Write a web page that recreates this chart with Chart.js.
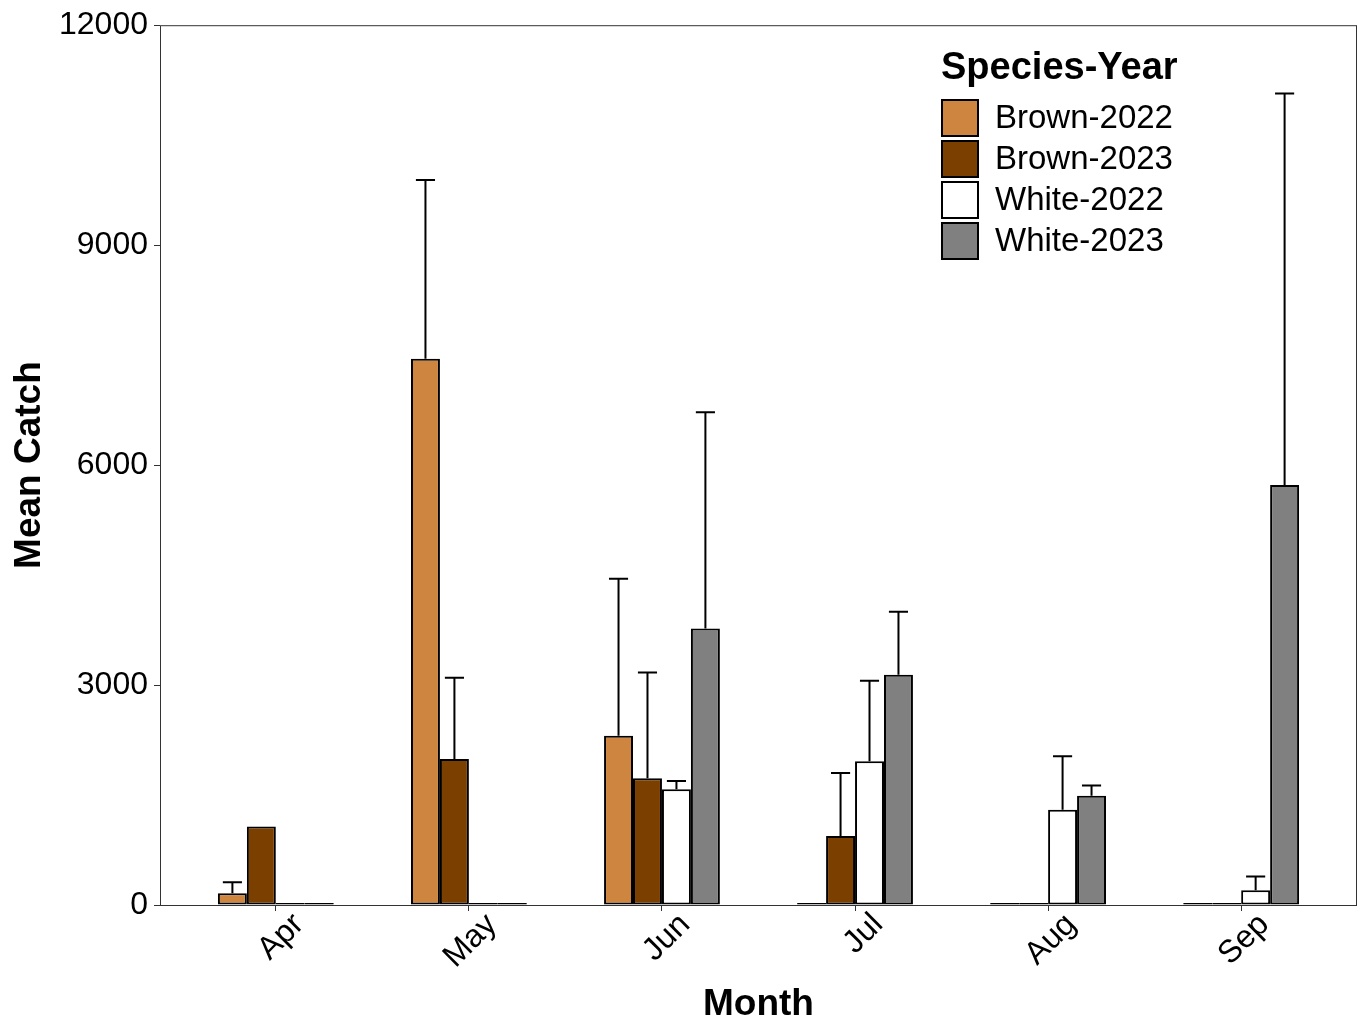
<!DOCTYPE html>
<html>
<head>
<meta charset="utf-8">
<script src="https://cdn.jsdelivr.net/npm/chart.js@4.4.1/dist/chart.umd.min.js"></script>
<style>
  html, body { margin: 0; padding: 0; background: #fff; }
  #wrap { width: 1361px; height: 1019px; position: relative; }
</style>
</head>
<body>
<div id="wrap"><canvas id="chart"></canvas></div>
<script>
const months = ["Apr", "May", "Jun", "Jul", "Aug", "Sep"];
const seriesNames = ["Brown-2022", "Brown-2023", "White-2022", "White-2023"];
const seriesColors = ["#CD853F", "#7B3F00", "#FFFFFF", "#808080"];

// mean catch per month
const brown2022 = [160, 7450, 2310, 20, 0, 0];
const brown2023 = [1070, 1990, 1730, 940, 10, 0];
const white2022 = [0, 0, 1580, 1960, 1300, 200];
const white2023 = [0, 0, 3770, 3140, 1490, 5730];

// top of error bar (null = none)
const brown2022Upper = [310, 9890, 4450, null, null, null];
const brown2023Upper = [null, 3100, 3170, 1800, null, null];
const white2022Upper = [null, null, 1690, 3060, 2030, 390];
const white2023Upper = [null, null, 6720, 4000, 1630, 11070];

const yTicks = [0, 3000, 6000, 9000, 12000];

const means = [brown2022, brown2023, white2022, white2023];
const uppers = [brown2022Upper, brown2023Upper, white2022Upper, white2023Upper];

const FONT = "'Liberation Sans', Arial, sans-serif";

const datasets = seriesNames.map((name, s) => ({
  label: name,
  data: means[s].map((v, i) => ({ x: i + 1, y: v })),
  upper: uppers[s],
  backgroundColor: seriesColors[s],
  borderColor: "#000",
  borderWidth: 2,
  borderSkipped: false,
  minBarLength: 2,
  categoryPercentage: 0.6,
  barPercentage: 1.0,
}));

// panel box around plot area
const panelBorder = {
  id: "panelBorder",
  afterDraw(chart) {
    const { ctx, chartArea: a } = chart;
    ctx.save();
    ctx.strokeStyle = "#333";
    ctx.lineWidth = 1;
    ctx.strokeRect(a.left + 0.5, a.top + 0.5, a.right - a.left - 1, a.bottom - a.top);
    ctx.restore();
  },
};

// upper-only error bars
const errorBars = {
  id: "errorBars",
  afterDatasetsDraw(chart) {
    const { ctx } = chart;
    const yScale = chart.scales.y;
    ctx.save();
    ctx.strokeStyle = "#000";
    ctx.lineWidth = 2;
    chart.data.datasets.forEach((ds, s) => {
      const meta = chart.getDatasetMeta(s);
      meta.data.forEach((el, i) => {
        const up = ds.upper[i];
        if (up == null) return;
        const yUp = yScale.getPixelForValue(up);
        const half = el.width * 0.33;
        ctx.beginPath();
        ctx.moveTo(el.x, el.y);
        ctx.lineTo(el.x, yUp);
        ctx.moveTo(el.x - half, yUp);
        ctx.lineTo(el.x + half, yUp);
        ctx.stroke();
      });
    });
    ctx.restore();
  },
};

// legend drawn inside the panel, top-right
const insideLegend = {
  id: "insideLegend",
  afterDraw(chart) {
    const { ctx } = chart;
    const x0 = 941, y0 = 99, box = 38, pitch = 41;
    ctx.save();
    ctx.fillStyle = "#000";
    ctx.textBaseline = "middle";
    ctx.textAlign = "left";
    ctx.font = "bold 38px " + FONT;
    ctx.fillText("Species-Year", x0, 69);
    ctx.font = "33px " + FONT;
    chart.data.datasets.forEach((ds, s) => {
      const y = y0 + s * pitch;
      ctx.fillStyle = ds.backgroundColor;
      ctx.fillRect(x0, y, box, box);
      ctx.strokeStyle = "#000";
      ctx.lineWidth = 2;
      ctx.strokeRect(x0 + 1, y + 1, box - 2, box - 2);
      ctx.fillStyle = "#000";
      ctx.fillText(ds.label, x0 + 54, y + box / 2 + 1);
    });
    ctx.restore();
  },
};

new Chart(document.getElementById("chart"), {
  type: "bar",
  data: { datasets },
  options: {
    responsive: true,
    maintainAspectRatio: false,
    animation: false,
    layout: { padding: { top: 23, right: 4, left: 0, bottom: 0 } },
    scales: {
      x: {
        type: "linear",
        min: 0.4,
        max: 6.6,
        offset: false,
        afterBuildTicks: (scale) => {
          scale.ticks = months.map((m, i) => ({ value: i + 1 }));
        },
        afterFit: (scale) => { scale.height = 114; },
        grid: {
          display: true,
          offset: false,
          drawOnChartArea: false,
          drawTicks: true,
          tickLength: 6,
          color: "#333",
        },
        border: { display: false },
        ticks: {
          callback: (v) => months[v - 1],
          minRotation: 45,
          maxRotation: 45,
          align: "center",
          padding: -5,
          labelOffset: 23,
          color: "#000",
          font: { family: FONT, size: 32 },
        },
        title: {
          display: true,
          text: "Month",
          color: "#000",
          font: { family: FONT, size: 37, weight: "bold", lineHeight: 1 },
          padding: { top: 0, bottom: -4 },
        },
      },
      y: {
        min: 0,
        max: 12000,
        afterBuildTicks: (scale) => {
          scale.ticks = yTicks.map((v) => ({ value: v }));
        },
        afterFit: (scale) => { scale.width = 160; },
        grid: {
          display: true,
          drawOnChartArea: false,
          drawTicks: true,
          tickLength: 6,
          color: "#333",
        },
        border: { display: false },
        ticks: {
          callback: (v) => String(v),
          padding: 6,
          color: "#000",
          font: { family: FONT, size: 32 },
        },
        title: {
          display: true,
          text: "Mean Catch",
          color: "#000",
          font: { family: FONT, size: 37, weight: "bold" },
          padding: { top: 8, bottom: 0 },
        },
      },
    },
    plugins: {
      legend: { display: false },
      tooltip: { enabled: false },
    },
  },
  plugins: [panelBorder, errorBars, insideLegend],
});
</script>
</body>
</html>
